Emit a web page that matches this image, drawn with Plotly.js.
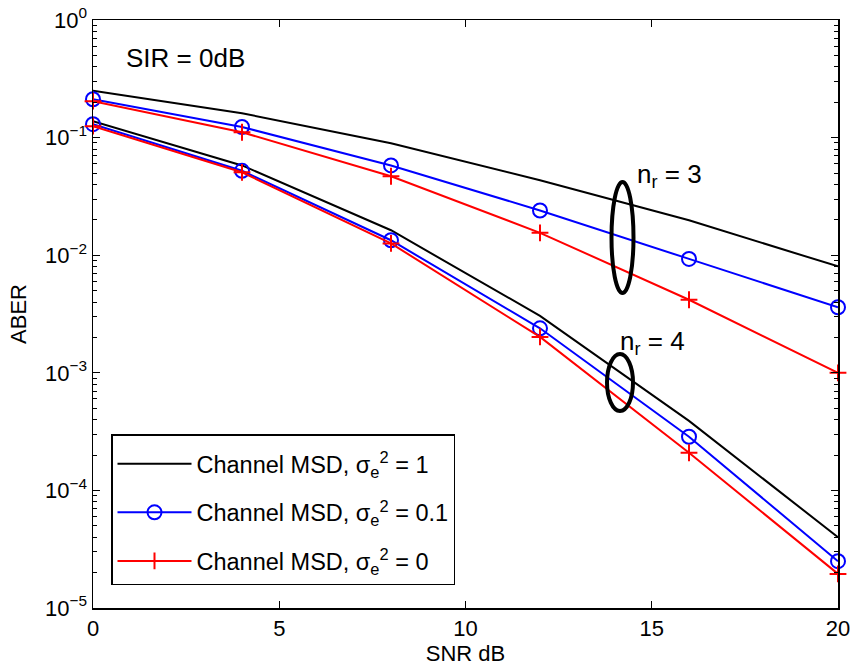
<!DOCTYPE html>
<html><head><meta charset="utf-8">
<script src="https://cdn.plot.ly/plotly-3.0.1.min.js"></script>
<style>body{margin:0;background:#fff;} #chart{width:852px;height:668px;}</style>
</head><body><div id="chart"></div>
<script>
// SNR (dB) sample points
const snr = [0, 4, 8, 12, 16, 20];
// ABER, n_r = 3
const msd1_nr3  = [0.250, 0.161, 0.0896, 0.0434, 0.0198, 0.00803];
const msd01_nr3 = [0.212, 0.123, 0.0580, 0.0240, 0.0093, 0.00361];
const msd0_nr3  = [0.204, 0.111, 0.0469, 0.0155, 0.00418, 0.00100];
// ABER, n_r = 4
const msd1_nr4  = [0.138, 0.0580, 0.0163, 0.00305, 0.00039, 0.000040];
const msd01_nr4 = [0.130, 0.0522, 0.0134, 0.00239, 0.000286, 0.000025];
const msd0_nr4  = [0.125, 0.0507, 0.0126, 0.00202, 0.000209, 0.0000195];
// labels
const seriesNames = [
  'Channel MSD, σ<sub>e</sub><sup>2</sup> = 1',
  'Channel MSD, σ<sub>e</sub><sup>2</sup> = 0.1',
  'Channel MSD, σ<sub>e</sub><sup>2</sup> = 0'
];
const yTickVals = [1e-5, 1e-4, 1e-3, 1e-2, 1e-1, 1];
const yTickText = ['10<sup>−5</sup>','10<sup>−4</sup>','10<sup>−3</sup>','10<sup>−2</sup>','10<sup>−1</sup>','10<sup>0</sup>'];

const FONT = 'Liberation Sans, Arial, Helvetica, sans-serif';
const minorVals = [];
for (let e = -5; e < 0; e++) for (let k = 2; k <= 9; k++) minorVals.push(k * Math.pow(10, e));

function tr(y, idx, show) {
  const styles = [
    {color: '#000000', mode: 'lines', marker: {}},
    {color: '#0000ff', mode: 'lines+markers', marker: {symbol: 'circle-open', size: 14, color: '#0000ff', line: {width: 2, color: '#0000ff'}}},
    {color: '#ff0000', mode: 'lines+markers', marker: {symbol: 'cross-thin-open', size: 12, color: '#ff0000', line: {width: 2, color: '#ff0000'}}}
  ][idx];
  return {
    x: snr, y: y, type: 'scatter', mode: styles.mode,
    name: seriesNames[idx], legendgroup: 'g' + idx, showlegend: show,
    line: {color: styles.color, width: 2}, marker: styles.marker, cliponaxis: false
  };
}
const data = [
  tr(msd1_nr3, 0, true), tr(msd01_nr3, 1, true), tr(msd0_nr3, 2, true),
  tr(msd1_nr4, 0, false), tr(msd01_nr4, 1, false), tr(msd0_nr4, 2, false)
];

const L = 93, R = 838, T = 20, B = 608;
const px = v => (v - L) / (R - L);
const py = v => (B - v) / (B - T);

const layout = {
  width: 852, height: 668,
  margin: {l: L, r: 852 - R, t: T, b: 668 - B},
  paper_bgcolor: '#fff', plot_bgcolor: '#fff',
  font: {family: FONT, color: '#000', size: 22},
  showlegend: true,
  xaxis: {
    range: [0, 20], dtick: 5, tick0: 0,
    showgrid: false, zeroline: false,
    showline: true, linecolor: '#000', linewidth: 1.5, mirror: 'ticks',
    ticks: 'inside', ticklen: 7, tickwidth: 1, tickcolor: '#000',
    tickfont: {family: FONT, size: 22, color: '#000'},
    title: {text: 'SNR dB', font: {family: FONT, size: 22, color: '#000'}, standoff: 4}
  },
  yaxis: {
    type: 'log', range: [-5, 0],
    tickmode: 'array', tickvals: yTickVals, ticktext: yTickText,
    showgrid: false, zeroline: false,
    showline: true, linecolor: '#000', linewidth: 1.5, mirror: 'ticks',
    ticks: 'inside', ticklen: 7, tickwidth: 1, tickcolor: '#000',
    minor: {tickmode: 'array', tickvals: minorVals, ticks: 'inside', ticklen: 4, tickwidth: 1, tickcolor: '#000', showgrid: false},
    tickfont: {family: FONT, size: 22, color: '#000'},
    title: {text: 'ABER', font: {family: FONT, size: 22, color: '#000'}, standoff: 12}
  },
  legend: {
    x: px(111), y: py(434), xanchor: 'left', yanchor: 'top',
    bgcolor: '#fff', bordercolor: '#000', borderwidth: 1.5,
    font: {family: FONT, size: 23.5, color: '#000'},
    title: {text: '&nbsp;', font: {size: 5}},
    tracegroupgap: 15, itemwidth: 74
  },
  shapes: [
    {type: 'circle', xref: 'paper', yref: 'paper', x0: px(611.5), x1: px(633.5), y0: py(293), y1: py(182), line: {color: '#000', width: 4}},
    {type: 'circle', xref: 'paper', yref: 'paper', x0: px(607), x1: px(633), y0: py(411), y1: py(354), line: {color: '#000', width: 4}}
  ],
  annotations: [
    {text: 'SIR = 0dB', xref: 'paper', yref: 'paper', x: px(185), y: py(58), xanchor: 'center', yanchor: 'middle', showarrow: false, font: {family: FONT, size: 26, color: '#000'}},
    {text: 'n<sub>r</sub> = 3', xref: 'paper', yref: 'paper', x: px(635), y: py(176), xanchor: 'left', yanchor: 'middle', showarrow: false, font: {family: FONT, size: 26, color: '#000'}},
    {text: 'n<sub>r</sub> = 4', xref: 'paper', yref: 'paper', x: px(618), y: py(342), xanchor: 'left', yanchor: 'middle', showarrow: false, font: {family: FONT, size: 26, color: '#000'}}
  ]
};
Plotly.newPlot('chart', data, layout, {staticPlot: true, displayModeBar: false});
</script></body></html>
